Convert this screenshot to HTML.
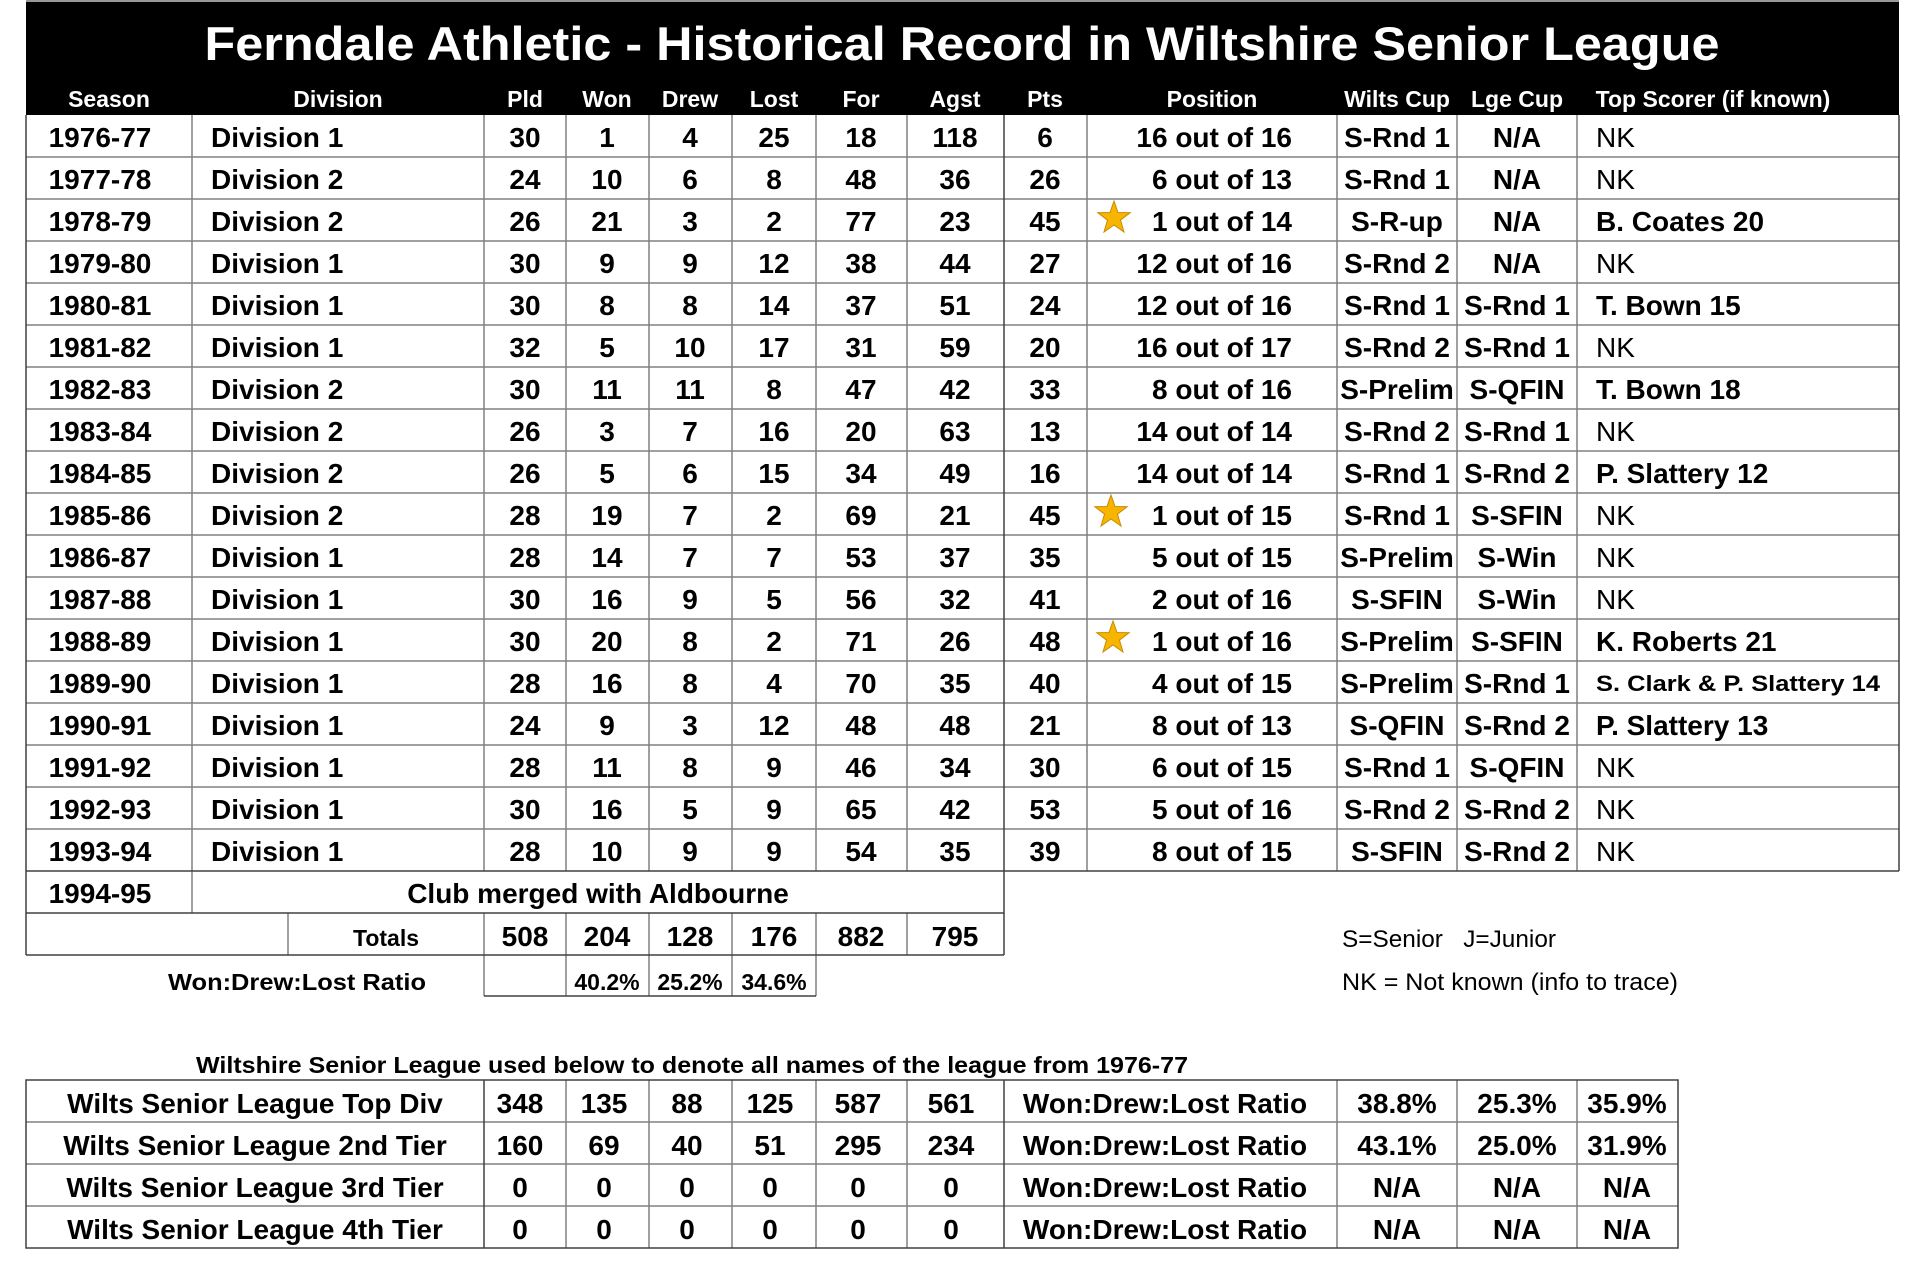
<!DOCTYPE html>
<html><head><meta charset="utf-8"><style>
html,body{margin:0;padding:0;background:#fff;}
svg{display:block;}
text{font-family:"Liberation Sans",Arial,sans-serif;}
.d{font-size:28px;font-weight:bold;fill:#000;text-anchor:middle;}
.l{font-size:28px;font-weight:bold;fill:#000;}
.n{font-size:28px;fill:#000;}
.h{font-size:23px;font-weight:bold;fill:#fff;text-anchor:middle;}
.s{font-size:23px;font-weight:bold;fill:#000;text-anchor:middle;}
.g{stroke:#808080;stroke-width:1.5;}
.k{stroke:#404040;stroke-width:1.5;}
</style></head><body>
<svg width="1920" height="1277" viewBox="0 0 1920 1277" xmlns="http://www.w3.org/2000/svg">
<rect x="26" y="0" width="1873" height="115" fill="#000"/>
<rect x="26" y="0" width="1873" height="2" fill="#999"/>
<text x="962" y="60" font-size="47" font-weight="bold" fill="#fff" text-anchor="middle" textLength="1515" lengthAdjust="spacingAndGlyphs">Ferndale Athletic - Historical Record in Wiltshire Senior League</text>
<g class="h">
<text x="109" y="107">Season</text><text x="338" y="107">Division</text><text x="525" y="107">Pld</text><text x="607" y="107">Won</text><text x="690" y="107">Drew</text><text x="774" y="107">Lost</text><text x="861" y="107">For</text><text x="955" y="107">Agst</text><text x="1045" y="107">Pts</text><text x="1212" y="107">Position</text><text x="1397" y="107">Wilts Cup</text><text x="1517" y="107">Lge Cup</text><text x="1713" y="107">Top Scorer (if known)</text>
</g>
<g class="g">
<line x1="26" y1="157" x2="1899" y2="157"/><line x1="26" y1="199" x2="1899" y2="199"/><line x1="26" y1="241" x2="1899" y2="241"/><line x1="26" y1="283" x2="1899" y2="283"/><line x1="26" y1="325" x2="1899" y2="325"/><line x1="26" y1="367" x2="1899" y2="367"/><line x1="26" y1="409" x2="1899" y2="409"/><line x1="26" y1="451" x2="1899" y2="451"/><line x1="26" y1="493" x2="1899" y2="493"/><line x1="26" y1="535" x2="1899" y2="535"/><line x1="26" y1="577" x2="1899" y2="577"/><line x1="26" y1="619" x2="1899" y2="619"/><line x1="26" y1="661" x2="1899" y2="661"/><line x1="26" y1="703" x2="1899" y2="703"/><line x1="26" y1="745" x2="1899" y2="745"/><line x1="26" y1="787" x2="1899" y2="787"/><line x1="26" y1="829" x2="1899" y2="829"/>
<line x1="192" y1="115" x2="192" y2="913"/><line x1="484" y1="115" x2="484" y2="871"/><line x1="566" y1="115" x2="566" y2="871"/><line x1="649" y1="115" x2="649" y2="871"/><line x1="732" y1="115" x2="732" y2="871"/><line x1="816" y1="115" x2="816" y2="871"/><line x1="907" y1="115" x2="907" y2="871"/><line x1="1087" y1="115" x2="1087" y2="871"/><line x1="1337" y1="115" x2="1337" y2="871"/><line x1="1457" y1="115" x2="1457" y2="871"/><line x1="1577" y1="115" x2="1577" y2="871"/>
<line x1="288" y1="913" x2="288" y2="955"/>
<line x1="484" y1="913" x2="484" y2="996"/><line x1="566" y1="913" x2="566" y2="996"/><line x1="649" y1="913" x2="649" y2="996"/><line x1="732" y1="913" x2="732" y2="996"/><line x1="816" y1="913" x2="816" y2="996"/><line x1="907" y1="913" x2="907" y2="955"/>
</g>
<g class="k">
<line x1="26" y1="115" x2="26" y2="955"/><line x1="1899" y1="115" x2="1899" y2="871"/><line x1="1004" y1="115" x2="1004" y2="955"/>
<line x1="26" y1="871" x2="1899" y2="871"/><line x1="26" y1="913" x2="1004" y2="913"/><line x1="26" y1="955" x2="1004" y2="955"/><line x1="484" y1="996" x2="816" y2="996"/>
</g>
<g id="rows">
<g transform="translate(0,147)"><text class="d" x="100" y="0">1976-77</text><text class="l" x="211" y="0">Division 1</text><text class="d" x="525">30</text><text class="d" x="607">1</text><text class="d" x="690">4</text><text class="d" x="774">25</text><text class="d" x="861">18</text><text class="d" x="955">118</text><text class="d" x="1045">6</text><text class="l" x="1292" text-anchor="end">16 out of 16</text><text class="d" x="1397">S-Rnd 1</text><text class="d" x="1517">N/A</text><text class="n" x="1596">NK</text></g>
<g transform="translate(0,189)"><text class="d" x="100">1977-78</text><text class="l" x="211">Division 2</text><text class="d" x="525">24</text><text class="d" x="607">10</text><text class="d" x="690">6</text><text class="d" x="774">8</text><text class="d" x="861">48</text><text class="d" x="955">36</text><text class="d" x="1045">26</text><text class="l" x="1292" text-anchor="end">6 out of 13</text><text class="d" x="1397">S-Rnd 1</text><text class="d" x="1517">N/A</text><text class="n" x="1596">NK</text></g>
<g transform="translate(0,231)"><text class="d" x="100">1978-79</text><text class="l" x="211">Division 2</text><text class="d" x="525">26</text><text class="d" x="607">21</text><text class="d" x="690">3</text><text class="d" x="774">2</text><text class="d" x="861">77</text><text class="d" x="955">23</text><text class="d" x="1045">45</text><text class="l" x="1292" text-anchor="end">1 out of 14</text><text class="d" x="1397">S-R-up</text><text class="d" x="1517">N/A</text><text class="l" x="1596">B. Coates 20</text></g>
<g transform="translate(0,273)"><text class="d" x="100">1979-80</text><text class="l" x="211">Division 1</text><text class="d" x="525">30</text><text class="d" x="607">9</text><text class="d" x="690">9</text><text class="d" x="774">12</text><text class="d" x="861">38</text><text class="d" x="955">44</text><text class="d" x="1045">27</text><text class="l" x="1292" text-anchor="end">12 out of 16</text><text class="d" x="1397">S-Rnd 2</text><text class="d" x="1517">N/A</text><text class="n" x="1596">NK</text></g>
<g transform="translate(0,315)"><text class="d" x="100">1980-81</text><text class="l" x="211">Division 1</text><text class="d" x="525">30</text><text class="d" x="607">8</text><text class="d" x="690">8</text><text class="d" x="774">14</text><text class="d" x="861">37</text><text class="d" x="955">51</text><text class="d" x="1045">24</text><text class="l" x="1292" text-anchor="end">12 out of 16</text><text class="d" x="1397">S-Rnd 1</text><text class="d" x="1517">S-Rnd 1</text><text class="l" x="1596">T. Bown 15</text></g>
<g transform="translate(0,357)"><text class="d" x="100">1981-82</text><text class="l" x="211">Division 1</text><text class="d" x="525">32</text><text class="d" x="607">5</text><text class="d" x="690">10</text><text class="d" x="774">17</text><text class="d" x="861">31</text><text class="d" x="955">59</text><text class="d" x="1045">20</text><text class="l" x="1292" text-anchor="end">16 out of 17</text><text class="d" x="1397">S-Rnd 2</text><text class="d" x="1517">S-Rnd 1</text><text class="n" x="1596">NK</text></g>
<g transform="translate(0,399)"><text class="d" x="100">1982-83</text><text class="l" x="211">Division 2</text><text class="d" x="525">30</text><text class="d" x="607">11</text><text class="d" x="690">11</text><text class="d" x="774">8</text><text class="d" x="861">47</text><text class="d" x="955">42</text><text class="d" x="1045">33</text><text class="l" x="1292" text-anchor="end">8 out of 16</text><text class="d" x="1397">S-Prelim</text><text class="d" x="1517">S-QFIN</text><text class="l" x="1596">T. Bown 18</text></g>
<g transform="translate(0,441)"><text class="d" x="100">1983-84</text><text class="l" x="211">Division 2</text><text class="d" x="525">26</text><text class="d" x="607">3</text><text class="d" x="690">7</text><text class="d" x="774">16</text><text class="d" x="861">20</text><text class="d" x="955">63</text><text class="d" x="1045">13</text><text class="l" x="1292" text-anchor="end">14 out of 14</text><text class="d" x="1397">S-Rnd 2</text><text class="d" x="1517">S-Rnd 1</text><text class="n" x="1596">NK</text></g>
<g transform="translate(0,483)"><text class="d" x="100">1984-85</text><text class="l" x="211">Division 2</text><text class="d" x="525">26</text><text class="d" x="607">5</text><text class="d" x="690">6</text><text class="d" x="774">15</text><text class="d" x="861">34</text><text class="d" x="955">49</text><text class="d" x="1045">16</text><text class="l" x="1292" text-anchor="end">14 out of 14</text><text class="d" x="1397">S-Rnd 1</text><text class="d" x="1517">S-Rnd 2</text><text class="l" x="1596">P. Slattery 12</text></g>
<g transform="translate(0,525)"><text class="d" x="100">1985-86</text><text class="l" x="211">Division 2</text><text class="d" x="525">28</text><text class="d" x="607">19</text><text class="d" x="690">7</text><text class="d" x="774">2</text><text class="d" x="861">69</text><text class="d" x="955">21</text><text class="d" x="1045">45</text><text class="l" x="1292" text-anchor="end">1 out of 15</text><text class="d" x="1397">S-Rnd 1</text><text class="d" x="1517">S-SFIN</text><text class="n" x="1596">NK</text></g>
<g transform="translate(0,567)"><text class="d" x="100">1986-87</text><text class="l" x="211">Division 1</text><text class="d" x="525">28</text><text class="d" x="607">14</text><text class="d" x="690">7</text><text class="d" x="774">7</text><text class="d" x="861">53</text><text class="d" x="955">37</text><text class="d" x="1045">35</text><text class="l" x="1292" text-anchor="end">5 out of 15</text><text class="d" x="1397">S-Prelim</text><text class="d" x="1517">S-Win</text><text class="n" x="1596">NK</text></g>
<g transform="translate(0,609)"><text class="d" x="100">1987-88</text><text class="l" x="211">Division 1</text><text class="d" x="525">30</text><text class="d" x="607">16</text><text class="d" x="690">9</text><text class="d" x="774">5</text><text class="d" x="861">56</text><text class="d" x="955">32</text><text class="d" x="1045">41</text><text class="l" x="1292" text-anchor="end">2 out of 16</text><text class="d" x="1397">S-SFIN</text><text class="d" x="1517">S-Win</text><text class="n" x="1596">NK</text></g>
<g transform="translate(0,651)"><text class="d" x="100">1988-89</text><text class="l" x="211">Division 1</text><text class="d" x="525">30</text><text class="d" x="607">20</text><text class="d" x="690">8</text><text class="d" x="774">2</text><text class="d" x="861">71</text><text class="d" x="955">26</text><text class="d" x="1045">48</text><text class="l" x="1292" text-anchor="end">1 out of 16</text><text class="d" x="1397">S-Prelim</text><text class="d" x="1517">S-SFIN</text><text class="l" x="1596">K. Roberts 21</text></g>
<g transform="translate(0,693)"><text class="d" x="100">1989-90</text><text class="l" x="211">Division 1</text><text class="d" x="525">28</text><text class="d" x="607">16</text><text class="d" x="690">8</text><text class="d" x="774">4</text><text class="d" x="861">70</text><text class="d" x="955">35</text><text class="d" x="1045">40</text><text class="l" x="1292" text-anchor="end">4 out of 15</text><text class="d" x="1397">S-Prelim</text><text class="d" x="1517">S-Rnd 1</text><text x="1596" y="-2" font-size="22" font-weight="bold" textLength="284" lengthAdjust="spacingAndGlyphs">S. Clark &amp; P. Slattery 14</text></g>
<g transform="translate(0,735)"><text class="d" x="100">1990-91</text><text class="l" x="211">Division 1</text><text class="d" x="525">24</text><text class="d" x="607">9</text><text class="d" x="690">3</text><text class="d" x="774">12</text><text class="d" x="861">48</text><text class="d" x="955">48</text><text class="d" x="1045">21</text><text class="l" x="1292" text-anchor="end">8 out of 13</text><text class="d" x="1397">S-QFIN</text><text class="d" x="1517">S-Rnd 2</text><text class="l" x="1596">P. Slattery 13</text></g>
<g transform="translate(0,777)"><text class="d" x="100">1991-92</text><text class="l" x="211">Division 1</text><text class="d" x="525">28</text><text class="d" x="607">11</text><text class="d" x="690">8</text><text class="d" x="774">9</text><text class="d" x="861">46</text><text class="d" x="955">34</text><text class="d" x="1045">30</text><text class="l" x="1292" text-anchor="end">6 out of 15</text><text class="d" x="1397">S-Rnd 1</text><text class="d" x="1517">S-QFIN</text><text class="n" x="1596">NK</text></g>
<g transform="translate(0,819)"><text class="d" x="100">1992-93</text><text class="l" x="211">Division 1</text><text class="d" x="525">30</text><text class="d" x="607">16</text><text class="d" x="690">5</text><text class="d" x="774">9</text><text class="d" x="861">65</text><text class="d" x="955">42</text><text class="d" x="1045">53</text><text class="l" x="1292" text-anchor="end">5 out of 16</text><text class="d" x="1397">S-Rnd 2</text><text class="d" x="1517">S-Rnd 2</text><text class="n" x="1596">NK</text></g>
<g transform="translate(0,861)"><text class="d" x="100">1993-94</text><text class="l" x="211">Division 1</text><text class="d" x="525">28</text><text class="d" x="607">10</text><text class="d" x="690">9</text><text class="d" x="774">9</text><text class="d" x="861">54</text><text class="d" x="955">35</text><text class="d" x="1045">39</text><text class="l" x="1292" text-anchor="end">8 out of 15</text><text class="d" x="1397">S-SFIN</text><text class="d" x="1517">S-Rnd 2</text><text class="n" x="1596">NK</text></g>
<g transform="translate(0,903)"><text class="d" x="100">1994-95</text><text class="d" x="598">Club merged with Aldbourne</text></g>
<g transform="translate(0,946)"><text class="s" x="386">Totals</text><text class="d" x="525">508</text><text class="d" x="607">204</text><text class="d" x="690">128</text><text class="d" x="774">176</text><text class="d" x="861">882</text><text class="d" x="955">795</text></g>
<g transform="translate(0,990)"><text class="s" x="297" font-size="24" textLength="258" lengthAdjust="spacingAndGlyphs">Won:Drew:Lost Ratio</text><text class="s" x="607" font-size="22">40.2%</text><text class="s" x="690" font-size="22">25.2%</text><text class="s" x="774" font-size="22">34.6%</text></g>
</g>
<g fill="#f7b500" stroke="#c88a00" stroke-width="1">
<polygon transform="translate(1114,218)" points="0,-17 4,-5.5 16.2,-5.3 6.5,2.1 10,14 0,7 -10,14 -6.5,2.1 -16.2,-5.3 -4,-5.5"/>
<polygon transform="translate(1111,512)" points="0,-17 4,-5.5 16.2,-5.3 6.5,2.1 10,14 0,7 -10,14 -6.5,2.1 -16.2,-5.3 -4,-5.5"/>
<polygon transform="translate(1113,638)" points="0,-17 4,-5.5 16.2,-5.3 6.5,2.1 10,14 0,7 -10,14 -6.5,2.1 -16.2,-5.3 -4,-5.5"/>
</g>
<text x="1342" y="947" font-size="24" fill="#000" xml:space="preserve" textLength="214" lengthAdjust="spacingAndGlyphs">S=Senior   J=Junior</text>
<text x="1342" y="990" font-size="24" fill="#000" textLength="336" lengthAdjust="spacingAndGlyphs">NK = Not known (info to trace)</text>
<text x="692" y="1073" font-size="23" font-weight="bold" text-anchor="middle" textLength="992" lengthAdjust="spacingAndGlyphs">Wiltshire Senior League used below to denote all names of the league from 1976-77</text>
<g class="g">
<line x1="26" y1="1122" x2="1678" y2="1122"/><line x1="26" y1="1164" x2="1678" y2="1164"/><line x1="26" y1="1206" x2="1678" y2="1206"/>
<line x1="566" y1="1080" x2="566" y2="1248"/><line x1="649" y1="1080" x2="649" y2="1248"/><line x1="732" y1="1080" x2="732" y2="1248"/><line x1="816" y1="1080" x2="816" y2="1248"/><line x1="907" y1="1080" x2="907" y2="1248"/><line x1="1337" y1="1080" x2="1337" y2="1248"/><line x1="1457" y1="1080" x2="1457" y2="1248"/><line x1="1577" y1="1080" x2="1577" y2="1248"/>
</g>
<g class="k">
<rect x="26" y="1080" width="1652" height="168" fill="none"/>
<line x1="484" y1="1080" x2="484" y2="1248"/><line x1="1004" y1="1080" x2="1004" y2="1248"/>
</g>
<g transform="translate(0,1113)"><text class="d" x="255">Wilts Senior League Top Div</text><text class="d" x="520">348</text><text class="d" x="604">135</text><text class="d" x="687">88</text><text class="d" x="770">125</text><text class="d" x="858">587</text><text class="d" x="951">561</text><text class="d" x="1165">Won:Drew:Lost Ratio</text><text class="d" x="1397">38.8%</text><text class="d" x="1517">25.3%</text><text class="d" x="1627">35.9%</text></g>
<g transform="translate(0,1155)"><text class="d" x="255">Wilts Senior League 2nd Tier</text><text class="d" x="520">160</text><text class="d" x="604">69</text><text class="d" x="687">40</text><text class="d" x="770">51</text><text class="d" x="858">295</text><text class="d" x="951">234</text><text class="d" x="1165">Won:Drew:Lost Ratio</text><text class="d" x="1397">43.1%</text><text class="d" x="1517">25.0%</text><text class="d" x="1627">31.9%</text></g>
<g transform="translate(0,1197)"><text class="d" x="255">Wilts Senior League 3rd Tier</text><text class="d" x="520">0</text><text class="d" x="604">0</text><text class="d" x="687">0</text><text class="d" x="770">0</text><text class="d" x="858">0</text><text class="d" x="951">0</text><text class="d" x="1165">Won:Drew:Lost Ratio</text><text class="d" x="1397">N/A</text><text class="d" x="1517">N/A</text><text class="d" x="1627">N/A</text></g>
<g transform="translate(0,1239)"><text class="d" x="255">Wilts Senior League 4th Tier</text><text class="d" x="520">0</text><text class="d" x="604">0</text><text class="d" x="687">0</text><text class="d" x="770">0</text><text class="d" x="858">0</text><text class="d" x="951">0</text><text class="d" x="1165">Won:Drew:Lost Ratio</text><text class="d" x="1397">N/A</text><text class="d" x="1517">N/A</text><text class="d" x="1627">N/A</text></g>
</svg>
</body></html>
